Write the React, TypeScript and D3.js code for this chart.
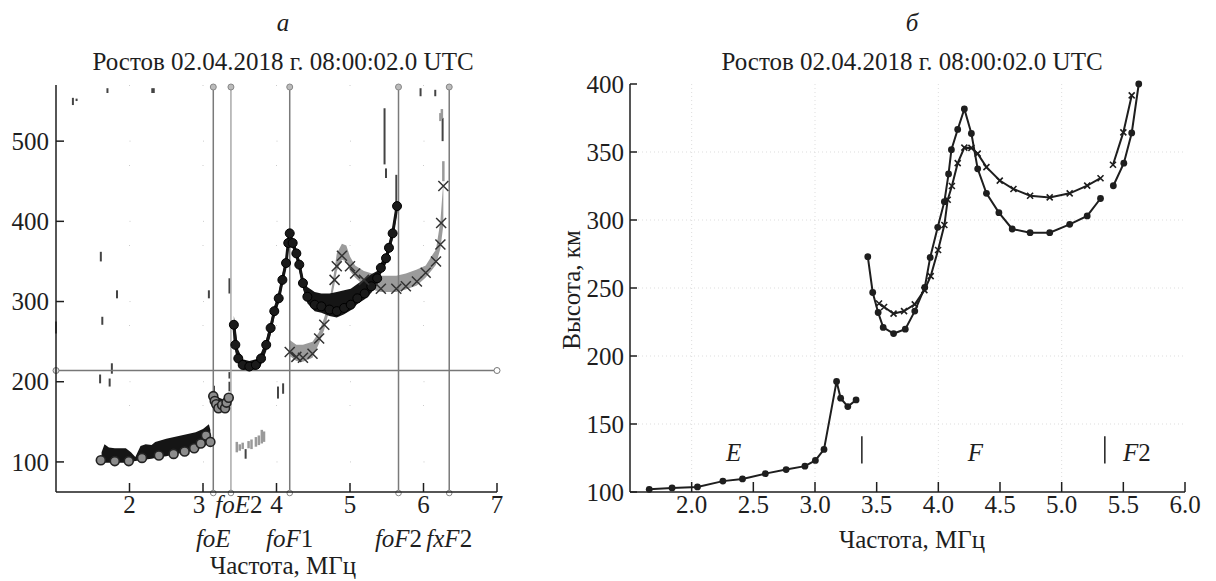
import React from "react";
import * as d3 from "d3";

// ---------- panel "а": ionogram ----------
const aTicksX = [2, 3, 4, 5, 6, 7];
const aTicksY = [100, 200, 300, 400, 500];
const aHLine = 214;

// marked critical frequencies (f, italic part, upright part, label row)
const aMarks = [
  { f: 3.14, it: "foE", num: "", row: 2 },
  { f: 3.38, it: "foE", num: "2", row: 1 },
  { f: 4.18, it: "foF", num: "1", row: 2 },
  { f: 5.66, it: "foF", num: "2", row: 2 },
  { f: 6.35, it: "fxF", num: "2", row: 2 },
];

// O-trace, E region markers
const aEMarkers = [
  [1.61, 102], [1.8, 101], [1.99, 101], [2.17, 105], [2.4, 108], [2.6, 110],
  [2.75, 113], [2.88, 117], [2.97, 123], [3.04, 133], [3.1, 125],
];
// Es cluster near foE
const aE2Markers = [
  [3.14, 182], [3.16, 176], [3.18, 172], [3.21, 167], [3.26, 171], [3.3, 167], [3.32, 174], [3.35, 180],
];
// O-trace echo band [f, low, high]
const aEBand = [
  [1.62, 99, 112], [1.66, 99, 122], [1.72, 99, 118], [1.8, 99, 117], [1.95, 99, 117], [2.02, 100, 112],
  [2.08, 101, 106], [2.15, 102, 120], [2.22, 103, 122], [2.3, 104, 121], [2.35, 105, 125], [2.5, 107, 129],
  [2.7, 111, 133], [2.9, 115, 137], [3.0, 119, 141], [3.08, 123, 147], [3.1, 123, 140],
];
const aE2Band = [
  [3.13, 172, 186], [3.17, 166, 184], [3.22, 162, 180], [3.27, 164, 178], [3.31, 163, 182], [3.35, 172, 186],
];
const aFBand = [
  [3.42, 262, 282], [3.44, 240, 270], [3.48, 224, 240], [3.54, 215, 228], [3.63, 213, 226], [3.72, 215, 228],
  [3.79, 221, 236], [3.86, 238, 252], [3.92, 258, 274], [3.97, 280, 294], [4.03, 298, 312], [4.08, 320, 334],
  [4.13, 342, 356], [4.16, 366, 380], [4.18, 378, 392], [4.22, 366, 378], [4.27, 352, 366], [4.31, 338, 352],
  [4.36, 316, 330], [4.42, 298, 318], [4.52, 288, 312], [4.61, 286, 310], [4.72, 282, 310], [4.82, 280, 312],
  [4.92, 284, 314], [5.01, 289, 316], [5.1, 297, 322], [5.2, 303, 328], [5.29, 311, 334], [5.37, 321, 338],
  [5.42, 334, 348], [5.49, 347, 360], [5.53, 359, 372], [5.58, 377, 392], [5.64, 410, 425],
];
const aFMarkers = [
  [3.42, 271], [3.44, 246], [3.48, 229], [3.54, 221], [3.63, 219], [3.72, 221], [3.79, 229], [3.86, 246],
  [3.92, 267], [3.97, 288], [4.03, 304], [4.08, 327], [4.13, 348], [4.16, 373], [4.18, 385], [4.22, 373],
  [4.27, 360], [4.31, 346], [4.36, 323], [4.42, 306], [4.52, 296], [4.61, 294], [4.72, 290], [4.82, 288],
  [4.92, 292], [5.01, 296], [5.1, 304], [5.2, 310], [5.29, 319], [5.37, 329], [5.42, 342], [5.49, 354],
  [5.53, 367], [5.58, 385], [5.64, 419],
];
// X-trace band and markers
const aXBand = [
  [4.18, 232, 252], [4.27, 226, 246], [4.36, 225, 246], [4.49, 230, 250], [4.58, 248, 262], [4.65, 265, 280],
  [4.72, 290, 300], [4.79, 322, 340], [4.82, 338, 360], [4.89, 352, 372], [4.95, 350, 370], [5.0, 338, 356],
  [5.07, 330, 345], [5.19, 320, 338], [5.3, 315, 335], [5.42, 312, 332], [5.63, 312, 332], [5.76, 315, 335],
  [5.91, 320, 340], [6.03, 330, 345], [6.12, 340, 358], [6.17, 346, 365], [6.23, 366, 400], [6.27, 395, 450],
];
const aXMarkers = [
  [4.18, 237], [4.27, 231], [4.36, 230], [4.49, 235], [4.58, 254], [4.65, 271], [4.79, 327], [4.82, 344],
  [4.89, 357], [5.0, 344], [5.07, 335], [5.19, 327], [5.42, 316], [5.63, 316], [5.76, 319], [5.91, 325],
  [6.03, 336], [6.17, 350], [6.23, 371], [6.24, 398], [6.27, 444],
];
// scattered echoes [f, low, high]
const aNoiseDark = [
  [1.23, 545, 554], [1.28, 550, 553], [1.7, 560, 566], [2.31, 560, 566], [2.33, 560, 566], [5.96, 556, 566],
  [6.16, 556, 564], [1.0, 260, 275], [1.61, 350, 362], [1.83, 304, 314], [1.63, 271, 281], [1.76, 210, 223],
  [1.6, 198, 209], [1.73, 194, 204], [3.08, 304, 314], [3.36, 310, 329], [3.36, 204, 212], [3.36, 188, 200],
  [3.15, 185, 195], [3.58, 104, 116], [4.02, 179, 194], [4.09, 185, 198], [5.47, 471, 541], [5.49, 454, 466],
  [5.63, 420, 458], [6.26, 500, 529],
];
const aNoiseGrey = [
  [6.23, 525, 535], [6.25, 528, 540], [6.27, 450, 475], [3.46, 112, 125], [3.5, 114, 122], [3.54, 116, 124],
  [3.62, 117, 126], [3.66, 116, 128], [3.72, 119, 131], [3.76, 121, 133], [3.8, 123, 140], [3.83, 125, 138],
];

// ---------- panel "б": height profiles ----------
const bTicksX = [2.0, 2.5, 3.0, 3.5, 4.0, 4.5, 5.0, 5.5, 6.0];
const bTicksY = [100, 150, 200, 250, 300, 350, 400];
const bGridX = [2, 3, 4, 5];
const bELayer = [
  [1.656, 102], [1.841, 103], [2.047, 103.7], [2.253, 108], [2.412, 109.6], [2.597, 113.5], [2.766, 116.5],
  [2.918, 119], [3.003, 123.2], [3.073, 131.3], [3.175, 181.3], [3.208, 169], [3.266, 162.8], [3.333, 167.7],
];
const bFOrd = [
  [3.428, 273], [3.468, 246.7], [3.512, 232], [3.553, 221], [3.637, 216.5], [3.732, 219.7], [3.809, 233],
  [3.89, 250.4], [3.934, 272.5], [3.995, 294.6], [4.049, 313.5], [4.083, 333.9], [4.106, 351.7], [4.157, 366.6],
  [4.211, 381.7], [4.268, 363.6], [4.319, 337.6], [4.39, 319.6], [4.491, 305.4], [4.599, 293.4], [4.744, 290.7],
  [4.903, 290.7], [5.065, 296.8], [5.207, 303], [5.315, 315.8],
];
const bFExt = [
  [3.519, 238.6], [3.56, 236], [3.637, 231.2], [3.722, 233], [3.809, 238], [3.887, 248.4], [3.938, 258.7],
  [3.998, 277.9], [4.049, 296.3], [4.076, 314.9], [4.11, 325], [4.157, 341.8], [4.211, 353.2], [4.268, 353],
  [4.319, 348.8], [4.39, 338.9], [4.498, 329], [4.609, 322.8], [4.744, 317.8], [4.903, 316.6], [5.065, 319.6],
  [5.207, 325.3], [5.315, 330.7],
];
const bF2Ord = [[5.419, 325.2], [5.504, 341.8], [5.568, 364], [5.625, 400]];
const bF2Ext = [[5.416, 340.6], [5.5, 364.4], [5.568, 391.6]];
const bLayerNames = [
  { f: 2.34, it: "E", num: "" },
  { f: 4.3, it: "F", num: "" },
  { f: 5.61, it: "F", num: "2" },
];
const bLayerBounds = [3.38, 5.35];

const title = "Ростов 02.04.2018 г. 08:00:02.0 UTC";
const xLabel = "Частота, МГц";
const yLabel = "Высота, км";

const FONT = "'Liberation Serif', 'DejaVu Serif', serif";
const INK = "#1e1e1e";
const FS = 25;

export default function App() {
  // panel a scales
  const xA = d3.scaleLinear().domain([1, 7]).range([56, 497]);
  const yA = d3.scaleLinear().domain([62.5, 570]).range([492, 85]);
  // panel b scales
  const xB = d3.scaleLinear().domain([1.5, 6]).range([630, 1185]);
  const yB = d3.scaleLinear().domain([100, 400]).range([492, 84]);

  const bandA = d3
    .area<number[]>()
    .x((d) => xA(d[0]))
    .y0((d) => yA(d[1]))
    .y1((d) => yA(d[2]));
  const lineA = d3
    .line<number[]>()
    .x((d) => xA(d[0]))
    .y((d) => yA(d[1]));
  const lineB = d3
    .line<number[]>()
    .x((d) => xB(d[0]))
    .y((d) => yB(d[1]));

  const cross = (cx: number, cy: number, s: number) =>
    `M${cx - s},${cy - s}L${cx + s},${cy + s}M${cx - s},${cy + s}L${cx + s},${cy - s}`;

  const [aLeft, aRight] = xA.range();
  const [aBottom, aTop] = yA.range();
  const [bLeft, bRight] = xB.range();
  const [bBottom, bTop] = yB.range();

  return (
    <svg
      width={1216}
      height={581}
      style={{ position: "absolute", left: 0, top: 0, background: "#fff" }}
      fontFamily={FONT}
    >
      {/* ================= panel а ================= */}
      <text x={283} y={31} fontSize={FS} fontStyle="italic" textAnchor="middle" fill={INK}>
        а
      </text>
      <text x={283} y={70} fontSize={FS} textAnchor="middle" fill={INK}>
        {title}
      </text>

      {/* faint grid dots */}
      {aTicksX.slice(0, -1).map((t) => (
        <line key={"gx" + t} x1={xA(t)} x2={xA(t)} y1={aTop} y2={aBottom} stroke="#ccc" strokeWidth={1} strokeDasharray="1,79" />
      ))}
      {aTicksY.map((t) => (
        <line key={"gy" + t} x1={aLeft} x2={aRight} y1={yA(t)} y2={yA(t)} stroke="#ccc" strokeWidth={1} strokeDasharray="1,72.5" strokeDashoffset={-73.5} />
      ))}

      {/* scattered echoes */}
      {aNoiseDark.map((d, i) => (
        <line key={"nd" + i} x1={xA(d[0])} x2={xA(d[0])} y1={yA(d[1])} y2={yA(d[2])} stroke="#444" strokeWidth={2} />
      ))}
      {aNoiseGrey.map((d, i) => (
        <line key={"ng" + i} x1={xA(d[0])} x2={xA(d[0])} y1={yA(d[1])} y2={yA(d[2])} stroke="#9a9a9a" strokeWidth={2.5} />
      ))}

      {/* X trace */}
      <path d={bandA(aXBand) ?? ""} fill="#9b9b9b" />
      {/* O trace */}
      <path d={bandA(aEBand) ?? ""} fill="#151515" />
      <path d={bandA(aE2Band) ?? ""} fill="#151515" />
      <path d={bandA(aFBand) ?? ""} fill="#151515" />
      <path d={lineA(aFMarkers) ?? ""} fill="none" stroke="#151515" strokeWidth={3} />

      {/* critical-frequency lines */}
      <line x1={aLeft} x2={aRight} y1={yA(aHLine)} y2={yA(aHLine)} stroke="#777" strokeWidth={1.3} />
      <circle cx={aLeft} cy={yA(aHLine)} r={3} fill="#ddd" stroke="#777" strokeWidth={1} />
      <circle cx={aRight} cy={yA(aHLine)} r={3} fill="#fff" stroke="#777" strokeWidth={1} />
      {aMarks.map((m, i) => (
        <g key={"m" + i}>
          <line
            x1={xA(m.f)}
            x2={xA(m.f)}
            y1={aTop + 2}
            y2={aBottom}
            stroke={i === 1 ? "#aaa" : "#7a7a7a"}
            strokeWidth={1.5}
          />
          <circle cx={xA(m.f)} cy={aTop + 2} r={3} fill="#bbb" stroke="#888" strokeWidth={1} />
          <circle cx={xA(m.f)} cy={aBottom + 1} r={2.8} fill="#fff" stroke="#888" strokeWidth={1} />
        </g>
      ))}

      {/* markers */}
      {aEMarkers.concat(aE2Markers).map((d, i) => (
        <circle key={"em" + i} cx={xA(d[0])} cy={yA(d[1])} r={4.5} fill="#8c8c8c" stroke="#222" strokeWidth={1.6} />
      ))}
      {aFMarkers.map((d, i) => (
        <circle key={"fm" + i} cx={xA(d[0])} cy={yA(d[1])} r={4.5} fill="#1a1a1a" stroke="#000" strokeWidth={1} />
      ))}
      {aXMarkers.map((d, i) => (
        <path key={"xm" + i} d={cross(xA(d[0]), yA(d[1]), 5)} stroke="#333" strokeWidth={1.5} fill="none" />
      ))}

      {/* axes */}
      <line x1={aLeft} x2={aLeft} y1={aTop} y2={aBottom} stroke={INK} strokeWidth={1.5} />
      <line x1={aLeft} x2={aRight} y1={aBottom} y2={aBottom} stroke={INK} strokeWidth={1.5} />
      {aTicksY.map((t) => (
        <g key={"ya" + t}>
          <line x1={aLeft} x2={aLeft + 8} y1={yA(t)} y2={yA(t)} stroke={INK} strokeWidth={1.5} />
          <text x={aLeft - 7} y={yA(t)} dy="0.35em" fontSize={FS} textAnchor="end" fill={INK}>
            {t}
          </text>
        </g>
      ))}
      {aTicksX.map((t) => (
        <g key={"xa" + t}>
          <line x1={xA(t)} x2={xA(t)} y1={aBottom} y2={aBottom - 9} stroke={INK} strokeWidth={1.5} />
          <text x={xA(t) - (t === 3 ? 4 : 0)} y={aBottom + 21} fontSize={FS} textAnchor="middle" fill={INK}>
            {t}
          </text>
        </g>
      ))}
      {aMarks.map((m, i) => (
        <text
          key={"ml" + i}
          x={xA(m.f) + (m.row === 1 ? 8 : 0)}
          y={m.row === 1 ? aBottom + 21 : aBottom + 55}
          fontSize={FS}
          textAnchor="middle"
          fill={INK}
        >
          <tspan fontStyle="italic">{m.it}</tspan>
          {m.num && <tspan>{m.num}</tspan>}
        </text>
      ))}
      <text x={283} y={574} fontSize={FS} textAnchor="middle" fill={INK}>
        {xLabel}
      </text>

      {/* ================= panel б ================= */}
      <text x={912} y={31} fontSize={FS} fontStyle="italic" textAnchor="middle" fill={INK}>
        б
      </text>
      <text x={912} y={70} fontSize={FS} textAnchor="middle" fill={INK}>
        {title}
      </text>

      {bGridX.map((t) => (
        <line key={"bgx" + t} x1={xB(t)} x2={xB(t)} y1={bTop} y2={bBottom} stroke="#d4d4d4" strokeWidth={0.8} strokeDasharray="1,3" />
      ))}
      {bTicksY.slice(1, -1).map((t) => (
        <line key={"bgy" + t} x1={bLeft} x2={bRight} y1={yB(t)} y2={yB(t)} stroke="#d4d4d4" strokeWidth={0.8} strokeDasharray="1,3" />
      ))}

      {[bELayer, bFOrd, bF2Ord].map((s, k) => (
        <g key={"o" + k}>
          <path d={lineB(s) ?? ""} fill="none" stroke={INK} strokeWidth={2} />
          {s.map((d, i) => (
            <circle key={i} cx={xB(d[0])} cy={yB(d[1])} r={3.4} fill={INK} />
          ))}
        </g>
      ))}
      {[bFExt, bF2Ext].map((s, k) => (
        <g key={"x" + k}>
          <path d={lineB(s) ?? ""} fill="none" stroke={INK} strokeWidth={2} />
          {s.map((d, i) => (
            <path key={i} d={cross(xB(d[0]), yB(d[1]), 3)} stroke={INK} strokeWidth={1.6} fill="none" />
          ))}
        </g>
      ))}

      {bLayerBounds.map((f) => (
        <line key={"lb" + f} x1={xB(f)} x2={xB(f)} y1={yB(141)} y2={yB(121)} stroke={INK} strokeWidth={1.5} />
      ))}
      {bLayerNames.map((l, i) => (
        <text
          key={"ln" + i}
          x={xB(l.f)}
          y={yB(129)}
          dy="0.35em"
          fontSize={FS}
          textAnchor="middle"
          fill={INK}
        >
          <tspan fontStyle="italic">{l.it}</tspan>
          {l.num && <tspan>{l.num}</tspan>}
        </text>
      ))}

      <line x1={bLeft} x2={bLeft} y1={bTop} y2={bBottom} stroke={INK} strokeWidth={1.5} />
      <line x1={bLeft} x2={bRight} y1={bBottom} y2={bBottom} stroke={INK} strokeWidth={1.5} />
      {bTicksY.map((t) => (
        <g key={"yb" + t}>
          <line x1={bLeft} x2={bLeft + 7} y1={yB(t)} y2={yB(t)} stroke={INK} strokeWidth={1.5} />
          <text x={bLeft - 6} y={yB(t)} dy="0.35em" fontSize={FS} textAnchor="end" fill={INK}>
            {t}
          </text>
        </g>
      ))}
      {bTicksX.map((t) => (
        <g key={"xb" + t}>
          <line x1={xB(t)} x2={xB(t)} y1={bBottom} y2={bBottom - 10} stroke={INK} strokeWidth={1.5} />
          <text x={xB(t)} y={bBottom + 21} fontSize={FS} textAnchor="middle" fill={INK}>
            {d3.format(".1f")(t)}
          </text>
        </g>
      ))}
      <text x={912} y={548} fontSize={FS} textAnchor="middle" fill={INK}>
        {xLabel}
      </text>
      <text transform="translate(580,290) rotate(-90)" fontSize={FS} textAnchor="middle" fill={INK}>
        {yLabel}
      </text>
    </svg>
  );
}
